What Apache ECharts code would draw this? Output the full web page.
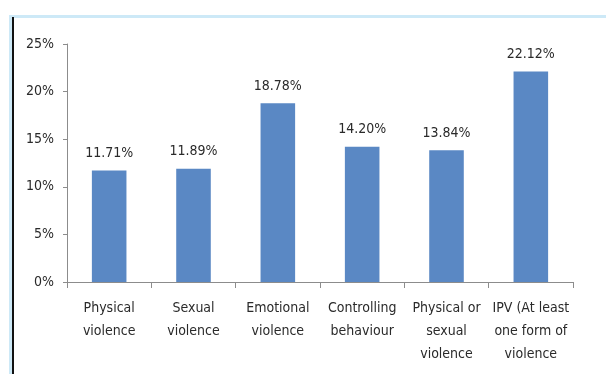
<!DOCTYPE html>
<html><head><meta charset="utf-8">
<script src="https://cdn.jsdelivr.net/npm/echarts@6/dist/echarts.min.js"></script>
<style>html,body{margin:0;padding:0;background:#fff}#c{width:606px;height:374px}</style>
</head><body><div id="c"></div>
<script>
const categories = ["Physical\nviolence","Sexual\nviolence","Emotional\nviolence","Controlling\nbehaviour","Physical or\nsexual\nviolence","IPV (At least\none form of\nviolence"];
const values = [11.71, 11.89, 18.78, 14.20, 13.84, 22.12];
const yTicks = [0, 5, 10, 15, 20, 25];
const FONT = "'Liberation Sans Narrow','DejaVu Sans Condensed',sans-serif";
const chart = echarts.init(document.getElementById('c'));
chart.setOption({
  animation:false,
  backgroundColor:'#fff',
  textStyle:{fontFamily:FONT},
  graphic:[
    {type:'rect',shape:{x:9,y:15,width:597,height:3},style:{fill:'#cde9f7'}},
    {type:'rect',shape:{x:9,y:15,width:3,height:359},style:{fill:'#cde9f7'}},
    {type:'rect',shape:{x:12,y:17,width:2,height:357},style:{fill:'#111'}}
  ],
  grid:{left:67,right:33,top:44,bottom:92},
  xAxis:{type:'category',data:categories,
    axisLine:{lineStyle:{color:'#8c8c8c'}},
    axisTick:{show:true,length:6,lineStyle:{color:'#8c8c8c'}},
    axisLabel:{color:'#2a2a2a',fontSize:14,fontFamily:FONT,lineHeight:23,margin:15,interval:0}},
  yAxis:{type:'value',min:yTicks[0],max:yTicks[yTicks.length-1],interval:5,
    splitLine:{show:false},
    axisLine:{show:true,lineStyle:{color:'#8c8c8c'}},
    axisTick:{show:true,length:4,lineStyle:{color:'#8c8c8c'}},
    axisLabel:{color:'#2a2a2a',fontSize:14,fontFamily:FONT,margin:13,formatter:v=>v+'%'}},
  series:[{type:'bar',data:values,barWidth:'41%',
    itemStyle:{color:'#5a88c4'},
    label:{show:true,position:'top',distance:10,color:'#2a2a2a',fontSize:14,fontFamily:FONT,formatter:p=>p.value.toFixed(2)+'%'}}]
});
</script></body></html>
